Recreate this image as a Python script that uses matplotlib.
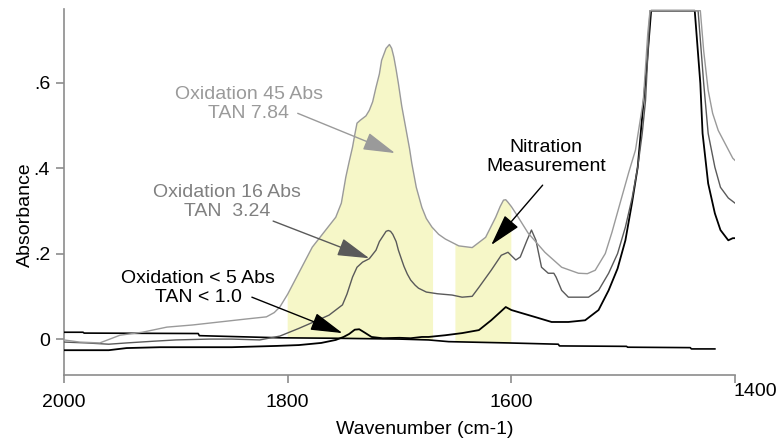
import matplotlib.pyplot as plt
import numpy as np

plt.rcParams['font.family'] = ['Liberation Sans', 'DejaVu Sans']

# --- data (wavenumber cm-1, absorbance) ---
ox45_x = [2000, 1986, 1968, 1950, 1930, 1908, 1885, 1861, 1837, 1819, 1812, 1807,
          1800, 1792, 1778, 1766, 1757, 1752, 1748, 1745, 1742, 1740, 1738, 1735,
          1730, 1727, 1724, 1721, 1718, 1716, 1712, 1709, 1707, 1705, 1703, 1701,
          1698, 1694, 1691, 1689, 1685, 1680, 1676, 1671, 1665, 1659, 1647, 1635,
          1623, 1614, 1610, 1607, 1605, 1603, 1600, 1596, 1585, 1570, 1555, 1540,
          1532, 1525, 1516, 1510, 1502, 1495, 1489, 1482, 1478, 1476, 1431, 1428,
          1424, 1420, 1415, 1409, 1402, 1400]
ox45_y = [-0.002, -0.007, -0.009, 0.009, 0.016, 0.028, 0.033, 0.040, 0.047, 0.052, 0.062, 0.075,
          0.105, 0.145, 0.215, 0.255, 0.285, 0.318, 0.379, 0.415, 0.449, 0.478, 0.505, 0.512,
          0.522, 0.535, 0.555, 0.589, 0.620, 0.652, 0.680, 0.689, 0.680, 0.659, 0.630, 0.598,
          0.545, 0.488, 0.445, 0.411, 0.355, 0.308, 0.282, 0.262, 0.245, 0.234, 0.218, 0.214,
          0.238, 0.285, 0.310, 0.325, 0.326, 0.320, 0.310, 0.294, 0.248, 0.203, 0.168, 0.154,
          0.153, 0.161, 0.200, 0.250, 0.325, 0.390, 0.442, 0.558, 0.715, 0.768, 0.768, 0.674,
          0.582, 0.528, 0.488, 0.458, 0.423, 0.418]

ox16_x = [2000, 1980, 1960, 1944, 1920, 1900, 1870, 1850, 1825, 1807, 1790, 1775,
          1763, 1757, 1751, 1747, 1742, 1738, 1733, 1727, 1721, 1718, 1715, 1712,
          1710, 1708, 1706, 1703, 1701, 1698, 1696, 1693, 1690, 1686, 1683, 1676,
          1666, 1653, 1644, 1635, 1629, 1618, 1609, 1603, 1596, 1592, 1586, 1582,
          1578, 1573, 1567, 1562, 1560, 1555, 1549, 1531, 1522, 1513, 1505, 1498,
          1492, 1487, 1483, 1480, 1476, 1433, 1428, 1424, 1418, 1413, 1406, 1400]
ox16_y = [-0.007, -0.009, -0.012, -0.009, -0.005, -0.002, 0.000, 0.000, -0.002, 0.007, 0.025, 0.042,
          0.056, 0.068, 0.080, 0.105, 0.145, 0.168, 0.180, 0.188, 0.208, 0.228, 0.240, 0.252,
          0.254, 0.252, 0.245, 0.228, 0.208, 0.185, 0.170, 0.152, 0.138, 0.126, 0.119, 0.110,
          0.106, 0.103, 0.098, 0.100, 0.121, 0.161, 0.196, 0.203, 0.185, 0.192, 0.231, 0.255,
          0.231, 0.168, 0.154, 0.154, 0.145, 0.114, 0.098, 0.098, 0.114, 0.154, 0.200, 0.262,
          0.330, 0.402, 0.480, 0.558, 0.768, 0.768, 0.598, 0.481, 0.402, 0.355, 0.330, 0.318]

ox5_x = [2000, 1960, 1944, 1914, 1885, 1850, 1810, 1790, 1770, 1757, 1750, 1745,
         1740, 1736, 1731, 1725, 1715, 1700, 1690, 1680, 1674, 1659, 1644, 1629,
         1618, 1610, 1605, 1600, 1591, 1578, 1564, 1549, 1534, 1522, 1513, 1505,
         1498, 1492, 1487, 1483, 1479, 1475, 1436, 1431, 1429, 1424, 1418, 1413,
         1406, 1402, 1400]
ox5_y = [-0.026, -0.026, -0.021, -0.019, -0.019, -0.019, -0.016, -0.014, -0.009, -0.002, 0.005, 0.012,
         0.022, 0.023, 0.015, 0.005, 0.002, 0.003, 0.002, 0.005, 0.005, 0.009, 0.014, 0.021,
         0.044, 0.063, 0.075, 0.068, 0.061, 0.051, 0.040, 0.040, 0.044, 0.068, 0.114, 0.165,
         0.231, 0.320, 0.402, 0.520, 0.636, 0.768, 0.768, 0.598, 0.481, 0.364, 0.294, 0.255,
         0.231, 0.236, 0.236]

base_x = [2000, 1983, 1982, 1880, 1879, 1807, 1760, 1700, 1674, 1656, 1603, 1558,
          1557, 1497, 1496, 1440, 1439, 1418]
base_y = [0.016, 0.016, 0.014, 0.013, 0.008, 0.003, 0.002, 0.000, -0.002, -0.006, -0.009, -0.012,
          -0.016, -0.017, -0.019, -0.020, -0.023, -0.023]

# integration windows shaded under the oxidized spectrum
bands = [(1800, 1670), (1650, 1600)]

fig = plt.figure(figsize=(7.77, 4.43), dpi=100)
ax = fig.add_axes([64/777, 68/443, 671/777, 366/443])

for hi, lo in bands:
    # polygon: top follows Ox45, bottom follows the baseline
    tx = [hi] + [x for x in ox45_x if lo < x < hi] + [lo]
    ty = np.interp(tx, ox45_x[::-1], ox45_y[::-1])
    bx = [lo] + [x for x in base_x[::-1] if lo < x < hi] + [hi]
    by = np.interp(bx, base_x[::-1], base_y[::-1])
    ax.fill(list(tx) + bx, list(ty) + list(by), color='#f6f7c8', lw=0, zorder=1)

ax.plot(base_x, base_y, color='black', lw=1.2, zorder=3)
ax.plot(ox5_x, ox5_y, color='black', lw=1.3, zorder=3)
ax.plot(ox16_x, ox16_y, color='#5a5a5a', lw=1.0, zorder=3)
ax.plot(ox45_x, ox45_y, color='#9a9a9a', lw=1.0, zorder=3)

ax.set_xlim(2000, 1400)
ax.set_ylim(-0.084, 0.772)
ax.set_xticks([2000, 1800, 1600, 1400])
ax.set_xticklabels(['2000', '1800', '1600', ''])
ax.set_yticks([0, 0.2, 0.4, 0.6])
ax.set_yticklabels(['0', '.2', '.4', '.6'])
for s in ['top', 'right']:
    ax.spines[s].set_visible(False)
for s in ['left', 'bottom']:
    ax.spines[s].set_color('#8c8c8c')
    ax.spines[s].set_linewidth(1.2)
ax.tick_params(direction='out', length=6, width=1.2, color='#8c8c8c', labelsize=14)
ax.tick_params(axis='x', pad=8)
ax.tick_params(axis='y', pad=4)

fig.text(755/777, 1 - 392/443, '1400', fontsize=14, ha='center', va='center')
fig.text(425/777, 1 - 430/443, 'Wavenumber (cm-1)', fontsize=14, ha='center', va='center')
fig.text(25/777, 1 - 215/443, 'Absorbance', fontsize=14, ha='center', va='center', rotation=90)

# annotations
notes = [
    ('Oxidation 45 Abs\nTAN 7.84', (1835, 0.549), (1791, 0.528), (1704, 0.435), '#9a9a9a', '#9a9a9a'),
    ('Oxidation 16 Abs\nTAN  3.24', (1854, 0.320), (1813, 0.276), (1727, 0.189), '#808080', '#5a5a5a'),
    ('Oxidation < 5 Abs\nTAN < 1.0', (1880, 0.119), (1832, 0.098), (1751, 0.014), 'black', 'black'),
    ('Nitration\nMeasurement', (1569, 0.425), (1572, 0.360), (1618, 0.220), 'black', 'black'),
]
for txt, pos, start, tip, tc, ac in notes:
    ax.text(pos[0], pos[1], txt, ha='center', va='center', fontsize=14, color=tc,
            linespacing=1.15, zorder=5)
    ax.annotate('', xy=tip, xytext=start,
                arrowprops=dict(arrowstyle='-|>,head_length=1.0,head_width=0.28',
                                mutation_scale=20, color=ac, lw=1.0,
                                shrinkA=0, shrinkB=0), zorder=5)

fig.savefig('out.png', dpi=100)
